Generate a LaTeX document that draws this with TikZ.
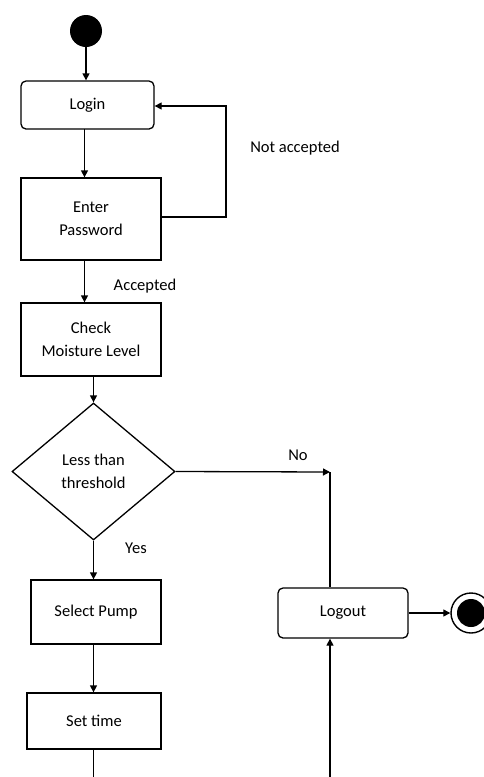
\documentclass[tikz,border=0pt]{standalone}
\usepackage{fontspec}
\setmainfont{Carlito}
\usetikzlibrary{shapes.geometric,arrows.meta,calc}
\begin{document}
\begin{tikzpicture}[x=1pt,y=-1pt,
  every node/.style={font=\fontsize{16.5}{23}\selectfont},
  box/.style={draw, line width=1.3pt, align=center, inner sep=0pt},
  rbox/.style={box, rounded corners=5pt},
  flow/.style={line width=1.3pt, -{Triangle[length=7pt,width=7pt]}},
  plain/.style={line width=1.3pt},
  lbl/.style={inner sep=0pt}]
\useasboundingbox (0,0) rectangle (484,777);
\fill[white] (0,0) rectangle (484,777);
% nodes
\node[circle, fill=black, minimum size=32pt, inner sep=0pt] (start) at (86,31) {};
\node[rbox, minimum width=133pt, minimum height=48pt] (login) at (87.5,105) {Login};
\node[box, minimum width=140pt, minimum height=82pt] (pwd) at (91,219) {Enter\\Password};
\node[box, minimum width=140pt, minimum height=73pt] (check) at (91,339.5) {Check\\Moisture Level};
\node[draw, diamond, line width=1.3pt, inner sep=0pt, minimum width=163pt, minimum height=137pt, align=center] (dec) at (93.5,471.5) {Less than\\threshold};
\node[box, minimum width=130pt, minimum height=64pt] (pump) at (96,612) {Select Pump};
\node[box, minimum width=134pt, minimum height=56pt] (time) at (94,721) {Set time};
\node[rbox, minimum width=130pt, minimum height=50pt] (logout) at (343,613) {Logout};
\node[circle, draw, line width=1.4pt, minimum size=40pt, inner sep=0pt] (end) at (471,613) {};
\fill (end.center) circle (14pt);
% coordinates
\coordinate (a1) at (84.5,129);
\coordinate (a2) at (84.5,260);
\coordinate (a3) at (93.5,376);
\coordinate (loopr) at (226,217);
\coordinate (loopt) at (226,106);
\coordinate (nocorner) at (330,472);
\coordinate (timeout) at (93.5,777);
\coordinate (logbot) at (330,777);
% labels
\node[lbl] (lna) at (295,148) {Not accepted};
\node[lbl] (lacc) at (145,286) {Accepted};
\node[lbl] (lno) at (298,455) {No};
\node[lbl] (lyes) at (136,548) {Yes};
% connectors
\draw[flow] (start.south) -- (start.south |- login.north);
\draw[flow] (a1) -- (a1 |- pwd.north);
\draw[flow] (pwd.east |- loopr) -- (loopr) -- (loopt) -- (loopt -| login.east);
\draw[flow] (a2) -- (a2 |- check.north);
\draw[flow] (a3) -- (dec.north);
\draw[flow] (dec.east) -- (nocorner);
\draw[plain] (nocorner) -- (nocorner |- logout.north);
\draw[flow] (dec.south) -- (dec.south |- pump.north);
\draw[flow] (dec.south |- pump.south) -- (dec.south |- time.north);
\draw[plain] (dec.south |- time.south) -- (timeout);
\draw[flow] (logbot) -- (logbot |- logout.south);
\draw[flow] (logout.east) -- (end.west);
\end{tikzpicture}
\end{document}
